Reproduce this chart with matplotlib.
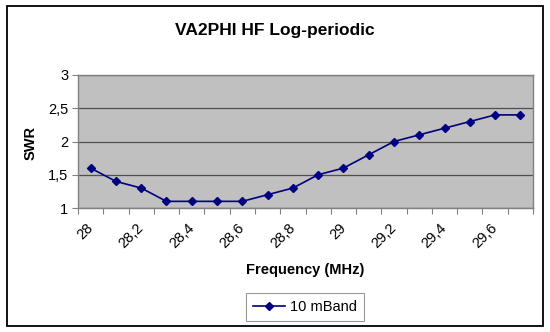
import matplotlib
matplotlib.use("Agg")
import matplotlib.pyplot as plt
import numpy as np
from matplotlib.patches import Rectangle

freqs = [28.0, 28.1, 28.2, 28.3, 28.4, 28.5, 28.6, 28.7, 28.8, 28.9,
         29.0, 29.1, 29.2, 29.3, 29.4, 29.5, 29.6, 29.7]
swr = [1.6, 1.4, 1.3, 1.1, 1.1, 1.1, 1.1, 1.2, 1.3, 1.5,
       1.6, 1.8, 2.0, 2.1, 2.2, 2.3, 2.4, 2.4]
x_labels = ["28", "28,2", "28,4", "28,6", "28,8", "29", "29,2", "29,4", "29,6"]
y_ticks = [1, 1.5, 2, 2.5, 3]
y_labels = ["1", "1,5", "2", "2,5", "3"]

plt.rcParams['font.family'] = ['Liberation Sans', 'DejaVu Sans']

W, H = 550, 332
fig = plt.figure(figsize=(W / 100, H / 100), dpi=100)
fig.patch.set_facecolor('white')

# outer chart border
fig.add_artist(Rectangle((7 / W, 1 - 326 / H), (543 - 7) / W, (326 - 6) / H,
                         transform=fig.transFigure, fill=False,
                         edgecolor='black', linewidth=1.3))

left, right, top, bottom = 78, 533, 75, 208
ax = fig.add_axes([left / W, 1 - bottom / H, (right - left) / W, (bottom - top) / H])
ax.set_facecolor('#C0C0C0')

xs = np.arange(len(swr))
ax.plot(xs, swr, color='#000080', marker='D', markersize=4.5, linewidth=1.2,
        label='10 mBand')

ax.set_xlim(-0.5, len(swr) - 0.5)
ax.set_ylim(1, 3)
ax.set_yticks(y_ticks)
ax.set_yticklabels(y_labels, fontsize=10.5)
ax.yaxis.grid(True, color='#505050', linewidth=0.9)
ax.set_axisbelow(True)

ax.set_xticks(np.arange(-0.5, len(swr), 1))
ax.set_xticklabels([])
ax.set_xticks(xs[::2], minor=True)
ax.set_xticklabels(x_labels, minor=True, rotation=45, ha='right', va='center',
                   rotation_mode='anchor', fontsize=10.5)
ax.tick_params(axis='x', which='minor', length=0, pad=13)
ax.tick_params(axis='x', which='major', length=4, color='#808080', direction='out')
ax.tick_params(axis='y', length=4, color='#808080', direction='out', pad=3)

for s in ax.spines.values():
    s.set_color('#808080')
    s.set_linewidth(1.0)

fig.text(275 / W, 1 - 31 / H, 'VA2PHI HF Log-periodic', ha='center', va='center',
         fontsize=12.5, fontweight='bold')
fig.text(31 / W, 1 - 143 / H, 'SWR', ha='center', va='center', rotation=90,
         fontsize=10.5, fontweight='bold')
fig.text(305 / W, 1 - 270 / H, 'Frequency (MHz)', ha='center', va='center',
         fontsize=10.5, fontweight='bold')

leg = fig.legend(loc='center', bbox_to_anchor=(305 / W, 1 - 307 / H),
                 fontsize=10.5, frameon=True, fancybox=False, edgecolor='#808080',
                 handlelength=2.2, handletextpad=0.4, borderpad=0.45)
leg.get_frame().set_linewidth(0.8)

fig.savefig('out.png', dpi=100)
